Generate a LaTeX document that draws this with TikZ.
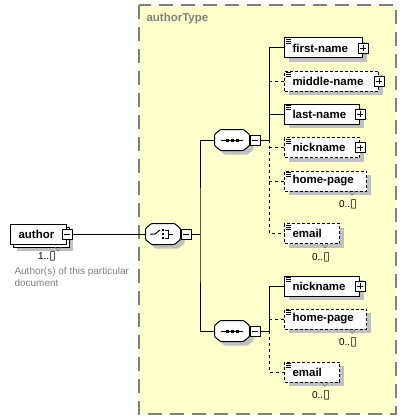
\documentclass[tikz,border=0pt]{standalone}
\usepackage{fontspec}
\setmainfont{Liberation Sans}
\newfontfamily\symfont{DejaVu Sans}
\usepackage{xcolor}
\usepackage{tikz}
\usetikzlibrary{shadows}

\definecolor{typeyellow}{RGB}{255,255,204}
\definecolor{shadowgray}{RGB}{192,192,192}
\definecolor{framegray}{RGB}{128,128,128}

\newcommand{\unb}{{\symfont\fontsize{12}{12}\selectfont ▯}}

\begin{document}
\begin{tikzpicture}[x=1pt,y=-1pt,line width=1pt,
	shade box/.style={drop shadow={shadow xshift=4pt,shadow yshift=-4pt,fill=shadowgray,opacity=1}},
	elembase/.style={draw,fill=white,anchor=west,minimum height=20pt,
		text width=#1,inner xsep=0pt,inner ysep=0pt,align=left,
		font=\fontsize{11.5}{13}\selectfont\bfseries,
		execute at begin node=\hspace*{8pt}},
	elem/.style={elembase=#1,shade box},
	optelem/.style={elem=#1,dash pattern=on 3pt off 2pt},
	optline/.style={dash pattern=on 3pt off 3pt},
	expander/.style={draw,fill=white,solid,minimum size=10pt,inner sep=0pt,line width=0.8pt},
	plus/.style={expander,path picture={
		\draw[line width=0.8pt] ([xshift=2pt]path picture bounding box.west) -- ([xshift=-2pt]path picture bounding box.east)
		([yshift=-2pt]path picture bounding box.north) -- ([yshift=2pt]path picture bounding box.south);}},
	minus/.style={expander,path picture={
		\draw[line width=0.8pt] ([xshift=2pt]path picture bounding box.west) -- ([xshift=-2pt]path picture bounding box.east);}},
	compositor/.style={minimum width=34pt,minimum height=20pt,inner sep=0pt},
	mult/.style={font=\fontsize{10}{12}\selectfont,inner sep=0pt},
	notch/.style={line width=0.6pt,gray}
]

\useasboundingbox (0,0) rectangle (406,420);

% complex type area
\draw[framegray,line width=1.5pt,dash pattern=on 14pt off 8pt,fill=typeyellow] (139,5) rectangle (396,414);
\node[anchor=west,inner sep=0pt,text=framegray,font=\fontsize{11.5}{13}\selectfont\bfseries] (typelbl) at (146,19) {authorType};

% root element
\fill[shadowgray] (17,231) rectangle (73,251);
\draw[fill=white] (13,227) rectangle (69,247);
\node[elembase=56pt] (author) at (10,234) {author};
\node[minus] (authorx) at (author.east) {};
\node[mult] (authorm) at (47,256) {1..\unb};
\draw[notch] (55,247) -- (58,251) -- (61,247);
\node[anchor=north west,align=left,inner sep=0pt,text=framegray,font=\fontsize{10}{12}\selectfont] (authordoc) at (14,267) {Author(s) of this particular\\document};

% compositors
\node[compositor] (choice) at (163,234) {};
\node[compositor] (seq1) at (232,140) {};
\node[compositor] (seq2) at (232,331) {};

\foreach \n in {choice,seq1,seq2}{
	\draw[fill=white,shade box,rounded corners=1pt] ([xshift=6pt]\n.north west) -- ([xshift=-6pt]\n.north east)
		-- ([yshift=-5pt]\n.north east) -- ([yshift=5pt]\n.south east) -- ([xshift=-6pt]\n.south east)
		-- ([xshift=6pt]\n.south west) -- ([yshift=5pt]\n.south west) -- ([yshift=-5pt]\n.north west) -- cycle;
}

\node[minus,anchor=west] (choicex) at (choice.east) {};
\node[minus,anchor=west] (seq1x) at (seq1.east) {};
\node[minus,anchor=west] (seq2x) at (seq2.east) {};

% first sequence
\node[elem=78pt] (first) at (284,48) {first-name};
\node[optelem=94pt] (middle) at (284,81) {middle-name};
\node[elem=75pt] (last) at (284,114) {last-name};
\node[optelem=75pt] (nick1) at (284,147.5) {nickname};
\node[optelem=82pt] (home1) at (284,181) {home-page};
\node[optelem=55pt] (email1) at (284,233.5) {email};

% second sequence
\node[elem=75pt] (nick2) at (284,286) {nickname};
\node[optelem=82pt] (home2) at (284,319) {home-page};
\node[optelem=55pt] (email2) at (284,372) {email};

\node[plus] (firstx) at (first.east) {};
\node[plus] (middlex) at (middle.east) {};
\node[plus] (lastx) at (last.east) {};
\node[plus] (nick1x) at (nick1.east) {};
\node[plus] (nick2x) at (nick2.east) {};

\node[mult] (home1m) at ([xshift=-19pt,yshift=-13pt]home1.south east) {0..\unb};
\node[mult] (email1m) at ([xshift=-19pt,yshift=-13pt]email1.south east) {0..\unb};
\node[mult] (home2m) at ([xshift=-19pt,yshift=-13pt]home2.south east) {0..\unb};
\node[mult] (email2m) at ([xshift=-19pt,yshift=-13pt]email2.south east) {0..\unb};

\foreach \n in {home1,email1,home2,email2}{
	\draw[notch] ([xshift=-18pt]\n.south east) -- ++(3pt,-4pt) -- ++(3pt,4pt);
}

% simple content marks
\foreach \n in {first,middle,last,nick1,home1,email1,nick2,home2,email2}{
	\foreach \d in {2,4,6}{
		\draw[solid,line width=0.7pt] ([xshift=2pt,yshift=-\d pt]\n.north west) -- ++(5pt,0pt);
	}
}

% sequence marks
\foreach \n in {seq1,seq2}{
	\draw ([xshift=-11pt]\n.center) -- ([xshift=11pt]\n.center);
	\foreach \dx in {-5,0,5}{
		\fill ([xshift=\dx pt-1.5pt,yshift=-1.5pt]\n.center) rectangle ++(3pt,3pt);
	}
}

% choice mark
\draw ([xshift=-13pt]choice.center) -- ([xshift=-8pt]choice.center) -- ([xshift=-3pt,yshift=4pt]choice.center);
\foreach \dy in {-4,0,4}{
	\fill ([xshift=-1.5pt,yshift=\dy pt-1.2pt]choice.center) rectangle ++(2.5pt,2.5pt);
}
\draw ([xshift=2pt,yshift=4pt]choice.center) -- ([xshift=5pt,yshift=4pt]choice.center)
	-- ([xshift=5pt,yshift=-4pt]choice.center) -- ([xshift=2pt,yshift=-4pt]choice.center);
\draw ([xshift=5pt]choice.center) -- ([xshift=10pt]choice.center);

% connectors
\coordinate (cfork) at (200,234);
\coordinate (sfork1) at (269,140);
\coordinate (sfork2) at (269,331);

\draw (authorx.east) -- (choice.west);
\draw (choicex.east) -- (cfork);
\draw (seq1.west) -| (cfork) |- (seq2.west);

\draw (seq1x.east) -- (sfork1);
\draw (first.west) -| (sfork1);
\draw (last.west) -- (last.west -| sfork1);
\draw[optline] (middle.west) -- (middle.west -| sfork1);
\draw[optline] (nick1.west) -- (nick1.west -| sfork1);
\draw[optline] (home1.west) -- (home1.west -| sfork1);
\draw[optline] (sfork1) |- (email1.west);

\draw (seq2x.east) -- (sfork2);
\draw (nick2.west) -| (sfork2);
\draw[optline] (home2.west) -- (home2.west -| sfork2);
\draw[optline] (sfork2) |- (email2.west);

\end{tikzpicture}
\end{document}
